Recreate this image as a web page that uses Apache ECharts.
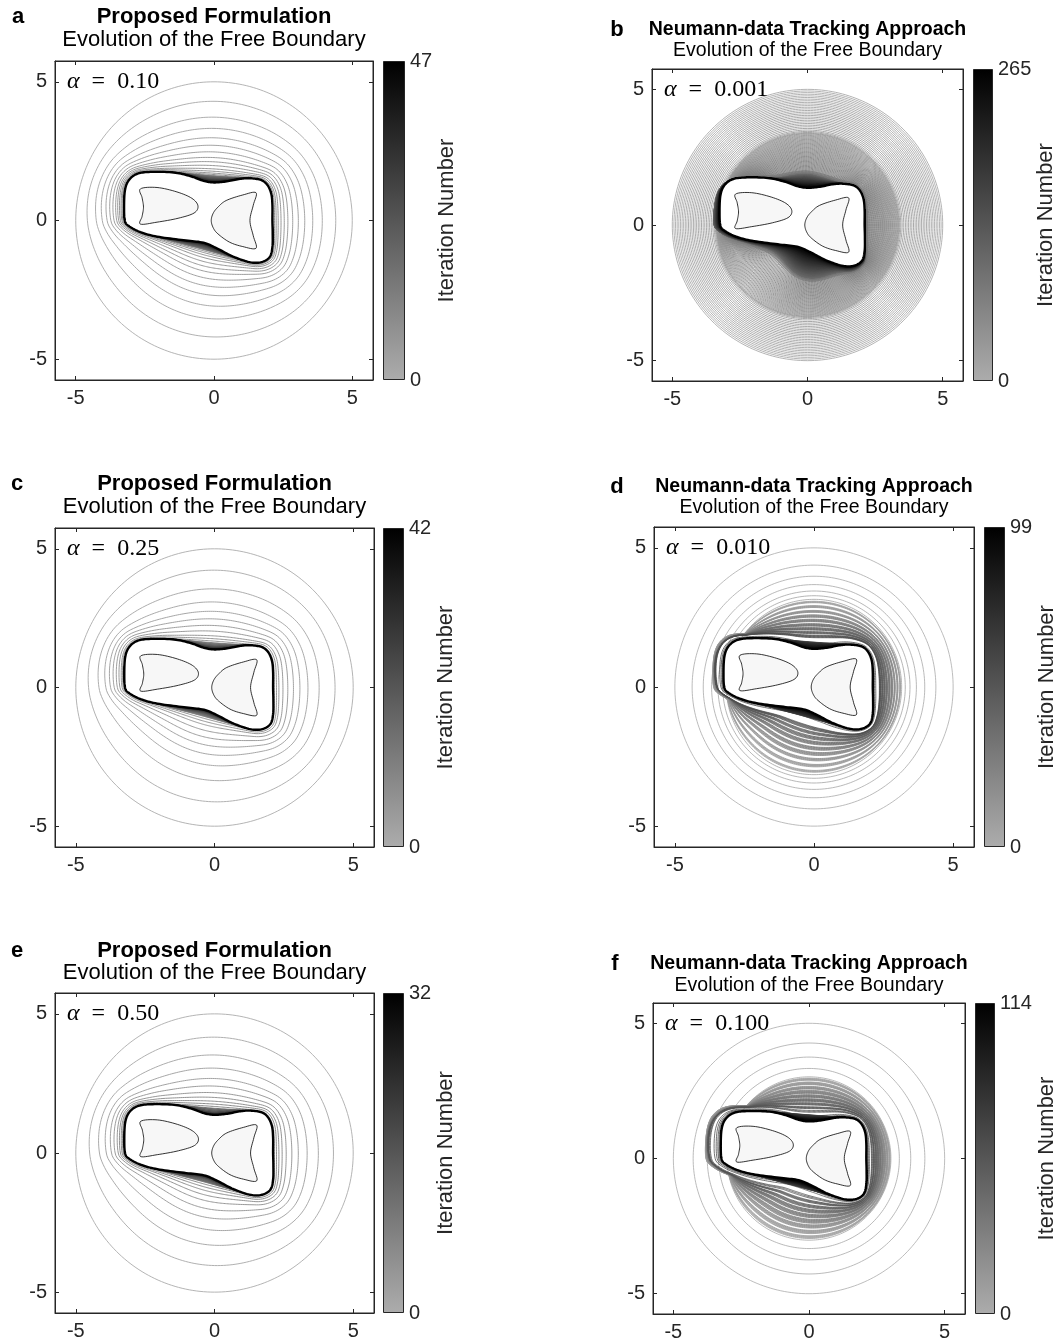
<!DOCTYPE html>
<html>
<head>
<meta charset="utf-8">
<script src="https://cdn.jsdelivr.net/npm/echarts@6/dist/echarts.min.js"></script>
<style>
  html, body { margin: 0; padding: 0; background: #fff; }
  #chart { width: 1064px; height: 1343px; }
</style>
</head>
<body>
<div id="chart"></div>
<script>
// target free boundary (x, y), counter-clockwise from the right side
const boundary = [
  [2.11, 0.00], [2.11, 0.55], [2.07, 0.96], [1.93, 1.28], [1.70, 1.46], [1.30, 1.52],
  [0.94, 1.50], [0.46, 1.41], [0.00, 1.37], [-0.38, 1.43], [-0.86, 1.60], [-1.46, 1.73],
  [-2.30, 1.75], [-2.78, 1.68], [-3.08, 1.45], [-3.22, 1.08], [-3.25, 0.45], [-3.22, -0.02],
  [-3.08, -0.20], [-2.66, -0.42], [-2.06, -0.58], [-1.10, -0.71], [-0.38, -0.80], [0.10, -1.00],
  [0.69, -1.30], [1.29, -1.50], [1.71, -1.50], [2.01, -1.32], [2.11, -0.96], [2.12, -0.45]
];
// the two fixed inner holes
const holeLeft = [
  [-2.66, 1.14], [-2.06, 1.19], [-1.34, 1.03], [-0.80, 0.80], [-0.58, 0.53], [-0.72, 0.27],
  [-1.30, 0.08], [-2.06, -0.06], [-2.66, -0.13], [-2.60, 0.15], [-2.55, 0.48], [-2.60, 0.82]
];
const holeRight = [
  [-0.10, 0.00], [-0.03, 0.26], [0.14, 0.48], [0.44, 0.72], [1.04, 0.92], [1.52, 1.00], [1.42, 0.55],
  [1.30, 0.00], [1.42, -0.55], [1.52, -1.00], [1.04, -0.94], [0.56, -0.78], [0.14, -0.48], [-0.03, -0.26]
];

const tickVals = [-5, 0, 5];

// each run: rings (circle radii), shrink (circle -> hull or boundary), fill (hull -> boundary)
const ringsA = [5.0];
const shrinkA = [0.21, 0.38, 0.5, 0.6, 0.68, 0.75, 0.81, 0.855, 0.895, 0.93, 0.955, 0.975, 0.99];
const fillA = [0.03, 0.07, 0.11, 0.15, 0.19, 0.23, 0.27, 0.31, 0.35, 0.39, 0.43, 0.47, 0.51, 0.55,
  0.59, 0.63, 0.66, 0.69, 0.72, 0.75, 0.78, 0.81, 0.84, 0.86, 0.88, 0.9, 0.92, 0.94, 0.95, 0.96,
  0.97, 0.98, 0.99, 1.0];
const ringsC = [5.0];
const shrinkC = [0.23, 0.43, 0.57, 0.67, 0.75, 0.82, 0.88, 0.93, 0.96, 0.985];
const fillC = [0.04, 0.09, 0.14, 0.19, 0.24, 0.29, 0.34, 0.39, 0.44, 0.49, 0.53, 0.57, 0.61, 0.65,
  0.69, 0.72, 0.75, 0.78, 0.81, 0.84, 0.87, 0.89, 0.91, 0.93, 0.95, 0.96, 0.97, 0.98, 0.99, 0.995,
  0.998, 1.0];
const ringsE = [5.0];
const shrinkE = [0.25, 0.44, 0.58, 0.69, 0.77, 0.84, 0.89, 0.93, 0.96, 0.985];
const fillE = [0.05, 0.11, 0.17, 0.23, 0.3, 0.37, 0.44, 0.51, 0.58, 0.64, 0.7, 0.75, 0.8, 0.84,
  0.88, 0.91, 0.94, 0.96, 0.98, 0.99, 0.997, 1.0];

const ringsB = [5.0, 4.94, 4.88, 4.82, 4.76, 4.7, 4.64, 4.58, 4.52, 4.46, 4.4, 4.34, 4.28, 4.22,
  4.16, 4.1, 4.04, 3.98, 3.92, 3.86, 3.8, 3.74, 3.68, 3.62, 3.56, 3.5, 3.45, 3.41, 3.38, 3.36];
const shrinkB = [0.02, 0.04, 0.06, 0.08, 0.1, 0.12, 0.14, 0.16, 0.18, 0.2, 0.22, 0.24, 0.26, 0.28,
  0.3, 0.32, 0.34, 0.36, 0.38, 0.4, 0.42, 0.44, 0.46, 0.48, 0.5, 0.52, 0.54, 0.56, 0.58, 0.6, 0.62,
  0.64, 0.66, 0.68, 0.7, 0.72, 0.74, 0.76, 0.78, 0.8, 0.82, 0.84, 0.86, 0.88, 0.9,
  0.91, 0.92, 0.93, 0.94, 0.95, 0.955, 0.96, 0.965, 0.97, 0.974, 0.978, 0.981, 0.984, 0.987, 0.99,
  0.992, 0.994, 0.995, 0.996, 0.997, 0.998, 0.9985, 0.999, 0.9995, 1, 1, 1, 1, 1, 1];
const fillB = [
  0.005, 0.011, 0.017, 0.023, 0.029, 0.035, 0.041, 0.047, 0.053, 0.06, 0.066, 0.072, 0.078, 0.085, 0.091, 0.097, 0.104, 0.11, 0.117, 0.123,
  0.13, 0.136, 0.143, 0.149, 0.156, 0.162, 0.169, 0.176, 0.182, 0.189, 0.196, 0.203, 0.209, 0.216, 0.223, 0.23, 0.237, 0.244, 0.251, 0.258,
  0.265, 0.272, 0.279, 0.286, 0.293, 0.3, 0.307, 0.314, 0.321, 0.328, 0.335, 0.342, 0.35, 0.357, 0.364, 0.371, 0.378, 0.385, 0.392, 0.4,
  0.407, 0.414, 0.421, 0.428, 0.435, 0.442, 0.449, 0.456, 0.463, 0.47, 0.477, 0.484, 0.491, 0.498, 0.505, 0.512, 0.519, 0.526, 0.533, 0.54,
  0.547, 0.554, 0.561, 0.568, 0.575, 0.582, 0.589, 0.596, 0.603, 0.61, 0.617, 0.624, 0.631, 0.638, 0.645, 0.652, 0.659, 0.666, 0.673, 0.68,
  0.686, 0.693, 0.7, 0.706, 0.713, 0.719, 0.726, 0.732, 0.739, 0.745, 0.751, 0.758, 0.764, 0.77, 0.776, 0.782, 0.788, 0.794, 0.8, 0.806,
  0.812, 0.818, 0.823, 0.829, 0.835, 0.84, 0.846, 0.851, 0.857, 0.862, 0.867, 0.872, 0.877, 0.882, 0.887, 0.892, 0.897, 0.902, 0.906, 0.911,
  0.915, 0.924, 0.932, 0.94, 0.948, 0.955, 0.961, 0.968, 0.974, 0.979,
  0.984, 0.988, 0.992, 0.995, 0.997, 0.998, 0.999, 1, 1, 1, 1
];

const ringsD = [5.0, 4.38, 3.98, 3.68, 3.45, 3.28, 3.15];
const shrinkD = [
  0.04, 0.05, 0.06, 0.07, 0.13, 0.14, 0.15, 0.16, 0.17, 0.23, 0.24, 0.25, 0.26, 0.27,
  0.32, 0.33, 0.34, 0.35, 0.36, 0.37, 0.41, 0.42, 0.43, 0.44, 0.45, 0.46, 0.5, 0.51, 0.52, 0.53, 0.54, 0.55,
  0.58, 0.59, 0.6, 0.61, 0.62, 0.63, 0.66, 0.67, 0.68, 0.69, 0.7, 0.73, 0.74, 0.75, 0.76, 0.77, 0.78,
  0.9, 0.94, 0.97, 0.985, 0.993, 0.997, 1
];
const fillD = [0.03, 0.06, 0.09, 0.12, 0.15, 0.18, 0.21, 0.24, 0.27, 0.3, 0.33, 0.36, 0.39, 0.42,
  0.45, 0.48, 0.51, 0.54, 0.57, 0.6, 0.63, 0.66, 0.69, 0.72, 0.75, 0.78, 0.81, 0.84, 0.87, 0.9,
  0.92, 0.94, 0.96, 0.98, 0.99, 0.995, 1];

const ringsF = [5.0, 4.27, 3.75, 3.33, 3.02];
const shrinkF = [
  0.03, 0.04, 0.05, 0.06, 0.07, 0.08, 0.12, 0.13, 0.14, 0.15, 0.16, 0.17, 0.18,
  0.22, 0.23, 0.24, 0.25, 0.26, 0.27, 0.28, 0.31, 0.32, 0.33, 0.34, 0.35, 0.36, 0.37, 0.38,
  0.41, 0.42, 0.43, 0.44, 0.45, 0.46, 0.47, 0.5, 0.51, 0.52, 0.53, 0.54, 0.55, 0.56,
  0.59, 0.6, 0.61, 0.62, 0.63, 0.64, 0.68, 0.69, 0.7, 0.71, 0.72, 0.76, 0.78, 0.8,
  0.88, 0.92, 0.95, 0.97, 0.985, 0.993, 0.997, 1
];
const fillF = [0.02, 0.04, 0.06, 0.08, 0.1, 0.12, 0.14, 0.16, 0.18, 0.2, 0.22, 0.24, 0.26, 0.28,
  0.3, 0.32, 0.34, 0.36, 0.38, 0.4, 0.42, 0.44, 0.46, 0.48, 0.5, 0.52, 0.54, 0.56, 0.58, 0.6,
  0.62, 0.64, 0.66, 0.68, 0.7, 0.72, 0.74, 0.76, 0.78, 0.8, 0.84, 0.88, 0.92, 0.95, 0.98, 1];

// slow / overshooting sides of the tracking runs: [direction in degrees, extra radius]
const lagB = [[50, 0], [70, 0.15], [90, 0.25], [110, 0.15], [125, 0], [150, 0], [165, 0.18], [180, 0.25],
  [195, 0.18], [210, 0.12], [225, 0.25], [240, 0.45], [255, 0.7], [270, 0.8], [285, 0.7], [300, 0.45],
  [315, 0.2], [330, 0.05], [340, 0]];
const lagD = [[130, 0], [145, 0.24], [165, 0.3], [185, 0.3], [200, 0.2], [215, 0]];
const lagF = [[125, 0], [140, 0.2], [160, 0.42], [180, 0.48], [195, 0.42], [210, 0.2], [225, 0]];

const SANS = '"Liberation Sans", Arial, Helvetica, sans-serif';
const SERIF = '"Liberation Serif", "Times New Roman", serif';
const INK = '#262626';
const LIGHT = 172; // grey level of iteration 0

const panels = [
  {tag: 'a', head: 'Proposed Formulation', alpha: '0.10', iters: 47, rings: ringsA, shrink: shrinkA, fill: fillA, target: 'hull', lag: [], fillLag: false, pad: null, lw: 0.9,
    box: [55, 61, 318, 319], bar: [383, 22], ty: [17, 40], fs: 22, lx: 18},
  {tag: 'b', head: 'Neumann-data Tracking Approach', alpha: '0.001', iters: 265, rings: ringsB, shrink: shrinkB, fill: fillB, target: 'hull', lag: lagB, fillLag: true, pad: null, lw: 0.9,
    box: [652, 69, 311, 312], bar: [973, 20], ty: [30, 51], fs: 19.5, lx: 617},
  {tag: 'c', head: 'Proposed Formulation', alpha: '0.25', iters: 42, rings: ringsC, shrink: shrinkC, fill: fillC, target: 'hull', lag: [], fillLag: false, pad: null, lw: 0.9,
    box: [55, 528, 319, 319], bar: [383, 21], ty: [484, 507], fs: 22, lx: 17},
  {tag: 'd', head: 'Neumann-data Tracking Approach', alpha: '0.010', iters: 99, rings: ringsD, shrink: shrinkD, fill: fillD, target: 'boundary', lag: lagD, fillLag: false, pad: 0.1, lw: 0.8,
    box: [654, 527, 320, 320], bar: [984, 21], ty: [487, 508], fs: 19.5, lx: 617},
  {tag: 'e', head: 'Proposed Formulation', alpha: '0.50', iters: 32, rings: ringsE, shrink: shrinkE, fill: fillE, target: 'hull', lag: [], fillLag: false, pad: null, lw: 0.9,
    box: [55, 993, 319, 320], bar: [383, 21], ty: [951, 973], fs: 22, lx: 17},
  {tag: 'f', head: 'Neumann-data Tracking Approach', alpha: '0.100', iters: 114, rings: ringsF, shrink: shrinkF, fill: fillF, target: 'boundary', lag: lagF, fillLag: false, pad: 0.12, lw: 0.8,
    box: [653, 1003, 312, 311], bar: [975, 20], ty: [964, 986], fs: 19.5, lx: 615}
];

// ---------- geometry helpers ----------
function closedSpline(pts, n) {
  const m = pts.length, out = [];
  for (let i = 0; i < m; i++) {
    const p0 = pts[(i - 1 + m) % m], p1 = pts[i], p2 = pts[(i + 1) % m], p3 = pts[(i + 2) % m];
    for (let k = 0; k < n; k++) {
      const t = k / n, t2 = t * t, t3 = t2 * t;
      const f = (a, b, c, d) => 0.5 * (2 * b + (-a + c) * t + (2 * a - 5 * b + 4 * c - d) * t2 + (-a + 3 * b - 3 * c + d) * t3);
      out.push([f(p0[0], p1[0], p2[0], p3[0]), f(p0[1], p1[1], p2[1], p3[1])]);
    }
  }
  return out;
}
function convexHull(pts) {
  const p = pts.slice().sort((u, v) => u[0] - v[0] || u[1] - v[1]);
  const cross = (o, a, b) => (a[0] - o[0]) * (b[1] - o[1]) - (a[1] - o[1]) * (b[0] - o[0]);
  const lower = [], upper = [];
  for (const q of p) { while (lower.length >= 2 && cross(lower[lower.length - 2], lower[lower.length - 1], q) <= 0) lower.pop(); lower.push(q); }
  for (let i = p.length - 1; i >= 0; i--) { const q = p[i]; while (upper.length >= 2 && cross(upper[upper.length - 2], upper[upper.length - 1], q) <= 0) upper.pop(); upper.push(q); }
  return lower.slice(0, -1).concat(upper.slice(0, -1));
}
function rayHit(poly, th) {
  const d0 = Math.cos(th), d1 = Math.sin(th);
  let best = 0;
  for (let i = 0; i < poly.length; i++) {
    const a = poly[i], b = poly[(i + 1) % poly.length];
    const e0 = b[0] - a[0], e1 = b[1] - a[1];
    const den = d0 * e1 - d1 * e0;
    if (Math.abs(den) < 1e-12) continue;
    const r = (a[0] * e1 - a[1] * e0) / den;
    const u = (a[0] * d1 - a[1] * d0) / den;
    if (u >= -1e-9 && u <= 1 + 1e-9 && r > 0) best = Math.max(best, r);
  }
  return best;
}
function smoothRing(arr, w) {
  const n = arr.length - 1; // last sample repeats the first
  return arr.map((_, j) => {
    let s = 0;
    for (let k = -w; k <= w; k++) s += arr[((j + k) % n + n) % n];
    return s / (2 * w + 1);
  });
}
function lagAt(deg, lag) {
  for (let i = 0; i + 1 < lag.length; i++) {
    const [a0, v0] = lag[i], [a1, v1] = lag[i + 1];
    if (deg >= a0 && deg <= a1) return v0 + (v1 - v0) * (deg - a0) / (a1 - a0);
  }
  return 0;
}

const NA = 240;
const angles = Array.from({length: NA + 1}, (_, j) => 2 * Math.PI * j / NA);
const fDense = closedSpline(boundary, 10);
const hull = convexHull(fDense);
const rF = angles.map(t => rayHit(fDense, t));
const rH = angles.map(t => rayHit(hull, t));
const soft = {hull: smoothRing(rH, 14), boundary: smoothRing(rF, 14)};
const sharp = {hull: rH, boundary: rF};
const holeL = closedSpline(holeLeft, 8);
const holeR = closedSpline(holeRight, 8);

const toCurve = radii => radii.map((r, j) => [r * Math.cos(angles[j]), r * Math.sin(angles[j])]);

function buildCurves(p) {
  const out = [];
  const extra = smoothRing(angles.map(t => lagAt(t * 180 / Math.PI, p.lag)), 5);
  p.rings.forEach(R => out.push(toCurve(angles.map(() => R))));
  const R0 = p.rings[p.rings.length - 1];
  const sm = soft[p.target], sh = sharp[p.target];
  // where the last ring already sits inside the overshoot, start just outside it
  const start = angles.map((_, j) => p.pad == null ? R0 : Math.max(R0, sh[j] + extra[j] + p.pad));
  p.shrink.forEach(s => out.push(toCurve(angles.map((_, j) => {
    // overshoot persists for most of the run, then settles onto the target
    const over = p.pad == null ? extra[j] : extra[j] * Math.min(1, (1 - s) / 0.25);
    const target = (1 - s) * sm[j] + s * sh[j] + over;
    return (1 - s) * start[j] + s * Math.min(target, start[j]);
  }))));
  p.fill.forEach(s => out.push(toCurve(angles.map((_, j) =>
    (1 - s) * (rH[j] + (p.fillLag ? extra[j] : 0)) + s * rF[j]))));
  return out;
}
const grey = f => { const g = Math.round(LIGHT * (1 - f)); return `rgb(${g},${g},${g})`; };

// ---------- option ----------
const grid = [], xAxis = [], yAxis = [], series = [], graphic = [];

panels.forEach((p, i) => {
  const [L, T, W, H] = p.box;
  grid.push({left: L, top: T, width: W, height: H, show: true, borderColor: INK, borderWidth: 1});
  grid.push({left: p.bar[0], top: T, width: p.bar[1], height: H});
  const gi = 2 * i, gc = 2 * i + 1;
  const mainAxis = (pos, labels) => ({
    gridIndex: gi, type: 'value', min: -5.75, max: 5.75, position: pos,
    axisLine: {show: true, onZero: false, lineStyle: {color: INK, width: 1}},
    axisTick: {show: true, inside: true, length: 4, customValues: tickVals, lineStyle: {color: INK, width: 1}},
    axisLabel: {show: labels, customValues: tickVals, fontSize: 20, color: INK, fontFamily: SANS, margin: 8},
    splitLine: {show: false}
  });
  xAxis.push(mainAxis('bottom', true), mainAxis('top', false),
    {gridIndex: gc, type: 'category', data: [''], show: false});
  yAxis.push(mainAxis('left', true), mainAxis('right', false),
    {gridIndex: gc, type: 'value', min: 0, max: p.iters, interval: p.iters, position: 'right',
      axisLine: {show: false}, axisTick: {show: false}, splitLine: {show: false},
      axisLabel: {fontSize: 20, color: INK, fontFamily: SANS, margin: 5},
      name: 'Iteration Number', nameLocation: 'middle', nameRotate: 90, nameGap: 29,
      nameTextStyle: {fontSize: 22, color: INK, fontFamily: SANS}});
  const xi = 3 * i, yi = 3 * i;

  const curves = buildCurves(p);
  series.push({
    type: 'lines', coordinateSystem: 'cartesian2d', xAxisIndex: xi, yAxisIndex: yi,
    polyline: true, silent: true, animation: false, z: 2,
    lineStyle: {width: p.lw, opacity: 1},
    data: curves.map((c, k) => ({coords: c, lineStyle: {color: grey(k / (curves.length - 1)), width: p.lw, opacity: 1}}))
  });
  series.push({
    type: 'custom', coordinateSystem: 'cartesian2d', xAxisIndex: xi, yAxisIndex: yi,
    silent: true, animation: false, z: 5, data: [[0, 0]],
    renderItem: (params, api) => ({
      type: 'group',
      children: [
        {type: 'polygon', shape: {points: fDense.map(q => api.coord(q))}, style: {fill: '#fff', stroke: '#000', lineWidth: 2.3}},
        {type: 'polygon', shape: {points: holeL.map(q => api.coord(q))}, style: {fill: '#f7f7f7', stroke: '#000', lineWidth: 0.8}},
        {type: 'polygon', shape: {points: holeR.map(q => api.coord(q))}, style: {fill: '#f7f7f7', stroke: '#000', lineWidth: 0.8}}
      ]
    })
  });
  series.push({
    type: 'bar', xAxisIndex: xi + 2, yAxisIndex: yi + 2, data: [p.iters], barWidth: '100%',
    silent: true, animation: false,
    itemStyle: {
      color: new echarts.graphic.LinearGradient(0, 0, 0, 1, [
        {offset: 0, color: '#000'}, {offset: 1, color: grey(0)}]),
      borderColor: INK, borderWidth: 1
    }
  });

  const cx = L + W / 2;
  graphic.push(
    {type: 'text', x: p.lx, y: p.ty[0], style: {text: p.tag, fontFamily: SANS, fontWeight: 'bold', fontSize: 22, fill: '#000', align: 'center', verticalAlign: 'middle'}},
    {type: 'text', x: cx, y: p.ty[0], style: {text: p.head, fontFamily: SANS, fontWeight: 'bold', fontSize: p.fs, fill: '#000', align: 'center', verticalAlign: 'middle'}},
    {type: 'text', x: cx, y: p.ty[1], style: {text: 'Evolution of the Free Boundary', fontFamily: SANS, fontSize: p.fs, fill: '#000', align: 'center', verticalAlign: 'middle'}},
    {type: 'text', x: L + 12, y: T + H * 0.75 / 11.5, z: 10, style: {
      text: '{i|α}\u2002=\u2002' + p.alpha, fontFamily: SERIF, fontSize: 24, fill: '#000', align: 'left', verticalAlign: 'middle',
      rich: {i: {fontFamily: SERIF, fontStyle: 'italic', fontSize: 24, fill: '#000'}}}}
  );
});

const chart = echarts.init(document.getElementById('chart'), null, {renderer: 'canvas'});
chart.setOption({
  backgroundColor: '#fff',
  animation: false,
  grid, xAxis, yAxis, series, graphic
});
</script>
</body>
</html>
